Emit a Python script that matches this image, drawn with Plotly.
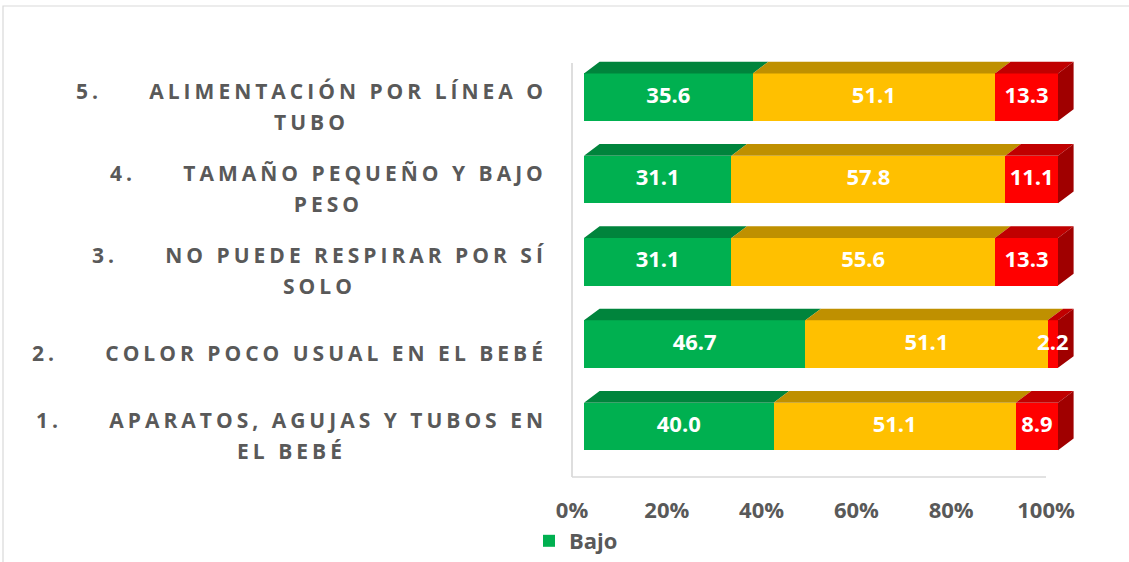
import plotly.graph_objects as go

# ---------------- data ----------------
cat_numbers = ["1.", "2.", "3.", "4.", "5."]
cat_line1 = [
    "APARATOS, AGUJAS Y TUBOS EN",
    "COLOR POCO USUAL EN EL BEBÉ",
    "NO PUEDE RESPIRAR POR SÍ",
    "TAMAÑO PEQUEÑO Y BAJO",
    "ALIMENTACIÓN POR LÍNEA O",
]
cat_line2 = ["EL BEBÉ", "", "SOLO", "PESO", "TUBO"]
series_names = ["Bajo", "Medio", "Alto"]
bajo = [40.0, 46.7, 31.1, 31.1, 35.6]
medio = [51.1, 51.1, 55.6, 57.8, 51.1]
alto = [8.9, 2.2, 13.3, 11.1, 13.3]
tick_vals = [0, 20, 40, 60, 80, 100]
tick_text = ["0%", "20%", "40%", "60%", "80%", "100%"]

# ---------------- style / geometry ----------------
W, H = 1129, 562
FONT = "Open Sans"
GRAY = "#595959"
front_colors = ["#00B050", "#FFC000", "#FF0000"]
top_colors = ["#00843C", "#BF9000", "#C00000"]
side_color = "#A00000"

X0_PX, KX = 584.0, 4.74          # px of 0 %, px per %
Y1_PX, KY = 426.4, 82.3          # px of category 1, px per category
PLOT_L, PLOT_R, PLOT_T, PLOT_B = 565.0, 1090.0, 50.0, 495.0
PW, PH = PLOT_R - PLOT_L, PLOT_B - PLOT_T

xr = [(PLOT_L - X0_PX) / KX, (PLOT_R - X0_PX) / KX]
yr = [1 - (PLOT_B - Y1_PX) / KY, 1 + (Y1_PX - PLOT_T) / KY]
BAR_W = 47.5 / KY
DX, DY = 15.6 / KX, 11.7 / KY
WALL_OFF = 12.0 / KX


def py(px):
    return 1 + (Y1_PX - px) / KY


def paper_x(px):
    return (px - PLOT_L) / PW


def paper_y(px):
    return 1 - (px - PLOT_T) / PH


ypos = list(range(1, len(cat_numbers) + 1))
values = [bajo, medio, alto]

fig = go.Figure()

# front faces
for name, vals, col in zip(series_names, values, front_colors):
    fig.add_trace(go.Bar(
        y=ypos, x=vals, orientation="h", name=name, width=BAR_W,
        marker=dict(color=col, line=dict(width=0)),
        showlegend=(name == "Bajo"), hoverinfo="x+name",
    ))

# top faces
for s, (vals, col) in enumerate(zip(values, top_colors)):
    xs, ys = [], []
    for i, yc in enumerate(ypos):
        x0 = sum(values[k][i] for k in range(s))
        x1 = x0 + vals[i]
        yt = yc + BAR_W / 2
        xs += [x0, x1, x1 + DX, x0 + DX, x0, None]
        ys += [yt, yt, yt + DY, yt + DY, yt, None]
    fig.add_trace(go.Scatter(x=xs, y=ys, mode="lines", fill="toself",
                             fillcolor=col, line=dict(width=0),
                             hoverinfo="skip", showlegend=False))

# right side faces
xs, ys = [], []
for i, yc in enumerate(ypos):
    tot = sum(v[i] for v in values)
    yb, yt = yc - BAR_W / 2, yc + BAR_W / 2
    xs += [tot, tot + DX, tot + DX, tot, tot, None]
    ys += [yb, yb + DY, yt + DY, yt, yb, None]
fig.add_trace(go.Scatter(x=xs, y=ys, mode="lines", fill="toself",
                         fillcolor=side_color, line=dict(width=0),
                         hoverinfo="skip", showlegend=False))

# value labels (on top of every face)
lx, ly, lt = [], [], []
for s, vals in enumerate(values):
    for i, yc in enumerate(ypos):
        x0 = sum(values[k][i] for k in range(s))
        lx.append(x0 + vals[i] / 2)
        ly.append(yc)
        lt.append(f"{vals[i]:.1f}")
fig.add_trace(go.Scatter(x=lx, y=ly, text=lt, mode="text",
                         textposition="middle center", cliponaxis=False,
                         textfont=dict(family=FONT, size=22, color="white",
                                       weight="bold"),
                         hoverinfo="skip", showlegend=False))

# dummy trace for the tick axis
fig.add_trace(go.Scatter(x=[None], y=[None], xaxis="x2", yaxis="y",
                         showlegend=False, hoverinfo="skip"))

# category labels
TAB = "\u00a0" * 5
LS = "font-size:21px;letter-spacing:4px"
for i, yc in enumerate(ypos):
    txt = f'<span style="{LS}">{cat_numbers[i]}{TAB}{cat_line1[i]}</span>'
    if cat_line2[i]:
        txt += f'<br><span style="{LS}">{cat_line2[i]}</span>'
    fig.add_annotation(
        text=txt, xref="paper", yref="y", x=paper_x(549), y=yc - 9 / KY,
        xanchor="right", yanchor="middle", align="center", showarrow=False,
        font=dict(family=FONT, size=24, color=GRAY, weight="bold"),
    )

# walls / floor and chart border
wall_col = "#D9D9D9"
fig.add_shape(type="line", xref="x", yref="y", x0=-WALL_OFF, x1=-WALL_OFF,
              y0=py(63), y1=py(477), line=dict(color=wall_col, width=1.7))
fig.add_shape(type="line", xref="x", yref="y", x0=-WALL_OFF, x1=100 - WALL_OFF,
              y0=py(477), y1=py(477), line=dict(color=wall_col, width=1.7))
fig.add_shape(type="rect", xref="paper", yref="paper",
              x0=paper_x(3), x1=paper_x(1140), y0=paper_y(6), y1=paper_y(580),
              line=dict(color=wall_col, width=1.2), fillcolor="rgba(0,0,0,0)")

fig.update_layout(
    width=W, height=H, barmode="stack",
    margin=dict(l=PLOT_L, r=W - PLOT_R, t=PLOT_T, b=H - PLOT_B, pad=0,
                autoexpand=False),
    paper_bgcolor="white", plot_bgcolor="rgba(0,0,0,0)",
    font=dict(family=FONT, color=GRAY),
    xaxis=dict(range=xr, visible=False, fixedrange=True),
    xaxis2=dict(range=[xr[0] + WALL_OFF, xr[1] + WALL_OFF], overlaying="x",
                anchor="y", side="bottom", tickvals=tick_vals, ticktext=tick_text,
                showgrid=False, zeroline=False, showline=False, ticks="",
                ticklabelstandoff=0, fixedrange=True,
                tickfont=dict(family=FONT, size=22, color=GRAY, weight="bold")),
    yaxis=dict(range=yr, visible=False, fixedrange=True),
    legend=dict(x=paper_x(529), y=paper_y(520), xanchor="left", yanchor="top",
                orientation="h",
                font=dict(family=FONT, size=22, color=GRAY, weight="bold"),
                bgcolor="rgba(0,0,0,0)"),
    showlegend=True,
)

fig.write_html("out.html",
               config={"displayModeBar": False},
               post_script="document.body.style.margin='0';"
                           "document.body.style.overflow='hidden';")
